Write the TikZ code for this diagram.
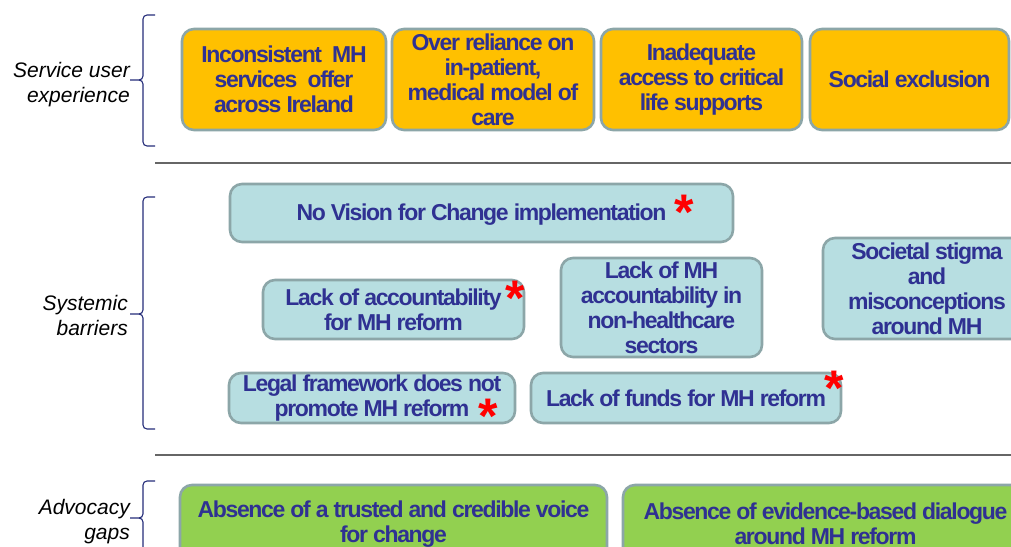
\documentclass[tikz,border=0pt]{standalone}
\usepackage{fontspec}
\setmainfont{Liberation Sans}
\newfontfamily\boxfont[LetterSpace=-5.8]{Liberation Sans}
\newfontfamily\labfont{Liberation Sans}
\definecolor{orfill}{HTML}{FFC000}
\definecolor{tlfill}{HTML}{B7DEE1}
\definecolor{grfill}{HTML}{92D050}
\definecolor{bordc}{HTML}{8CA6A8}
\definecolor{txtc}{HTML}{2F3192}
\definecolor{brkc}{HTML}{262E7A}
\definecolor{rulec}{HTML}{666666}
\tikzset{
  box/.style={draw=bordc, line width=2.6pt, rounded corners=12pt, inner sep=0pt,
    align=center, text=txtc, font=\boxfont\bfseries\fontsize{23}{25}\selectfont},
  obox/.style={box, fill=orfill},
  tbox/.style={box, fill=tlfill},
  gbox/.style={box, fill=grfill},
  sidelab/.style={anchor=east, align=right, inner sep=0pt,
    font=\labfont\itshape\fontsize{21}{25}\selectfont},
  brk/.style={draw=brkc, line width=1.1pt},
  rulel/.style={draw=rulec, line width=1.4pt},
  redast/.style={text=red, inner sep=0pt, anchor=north,
    font=\labfont\bfseries\fontsize{50}{50}\selectfont}
}
\newcommand\sidebracket[3]{%
  \draw[brk] (155,#1) -- (147,#1) to[out=180,in=90] (143,#1+4) -- (143,#2-4)
    to[out=-90,in=0] (139,#2) -- (130,#2);
  \draw[brk] (139,#2) to[out=0,in=90] (143,#2+4) -- (143,#3-4)
    to[out=-90,in=180] (147,#3) -- (155,#3);
}
\begin{document}
\begin{tikzpicture}[x=1pt,y=-1pt]
\useasboundingbox (0,0) rectangle (1011,546);
\clip (0,0) rectangle (1011,546);
\fill[white] (0,0) rectangle (1011,546);

% side labels and brackets
\node[sidelab] (lab1) at (130,84.5) {Service user\\experience};
\node[sidelab] (lab2) at (128,315) {Systemic\\barriers};
\node[sidelab] (lab3) at (130,522) {Advocacy\\gaps};
\sidebracket{15}{80}{146}
\sidebracket{197}{314}{429}
\sidebracket{481}{518}{620}

% separator rules
\coordinate (r1a) at (155,163); \coordinate (r1b) at (1011,163);
\coordinate (r2a) at (155,455); \coordinate (r2b) at (1011,455);
\draw[rulel] (r1a) -- (r1b);
\draw[rulel] (r2a) -- (r2b);

% service user experience
\node[obox, minimum width=204pt, minimum height=101pt] (o1) at (284,79.5)
  {Inconsistent \ MH\\services \ offer\\across Ireland};
\node[obox, minimum width=202pt, minimum height=101pt] (o2) at (493,79.5)
  {Over reliance on\\in-patient,\\medical model of\\care};
\node[obox, minimum width=201pt, minimum height=101pt] (o3) at (701.5,79.5)
  {Inadequate\\access to critical\\life supports};
\node[obox, minimum width=199pt, minimum height=101pt] (o4) at (909.5,79.5)
  {Social exclusion};

% systemic barriers
\node[tbox, minimum width=503pt, minimum height=58pt, text height=14pt, text depth=0pt]
  (t1) at (481.5,213) {No Vision for Change implementation};
\node[tbox, minimum width=261pt, minimum height=59pt] (t2) at (393.5,309.5)
  {Lack of accountability\\for MH reform};
\node[tbox, minimum width=201pt, minimum height=99pt] (t3) at (661.5,307.5)
  {Lack of MH\\accountability in\\non-healthcare\\sectors};
\node[tbox, minimum width=208pt, minimum height=101pt] (t4) at (927,288.5)
  {Societal stigma\\and\\misconceptions\\around MH};
\node[tbox, minimum width=286pt, minimum height=50pt] (t5) at (372,398)
  {Legal framework does not\\promote MH reform};
\node[tbox, minimum width=310pt, minimum height=50pt] (t6) at (686,398)
  {Lack of funds for MH reform};

% asterisks
\node[redast] (a1) at (684,195) {*};
\node[redast] (a2) at (515,281) {*};
\node[redast] (a3) at (488,399) {*};
\node[redast] (a4) at (834,371) {*};

% advocacy gaps
\node[gbox, minimum width=427pt, minimum height=78pt] (g1) at (393.5,524)
  {Absence of a trusted and credible voice\\for change};
\node[gbox, minimum width=405pt, minimum height=78pt] (g2) at (825.5,524)
  {Absence of evidence-based dialogue\\around MH reform};
\end{tikzpicture}
\end{document}
